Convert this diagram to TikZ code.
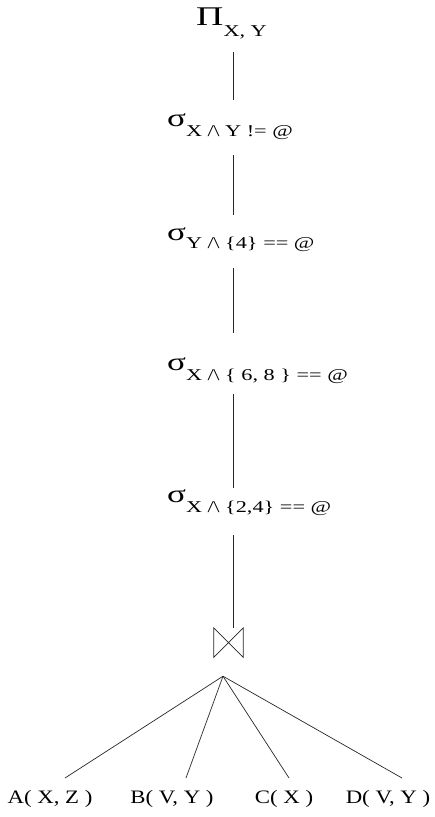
\documentclass[tikz,border=0pt]{standalone}
\usepackage{fontspec}
\setmainfont{Liberation Serif}[FakeStretch=1.2]
\newfontfamily\greekfont{Liberation Serif}[FakeStretch=1.4]
\newfontfamily\subfont{Liberation Serif}[FakeStretch=1.35]
\newcommand{\opsize}{\greekfont\fontsize{27}{27}\selectfont}
\newcommand{\sigsize}{\greekfont\fontsize{25}{25}\selectfont}
\newcommand{\subsize}{\subfont\fontsize{16.5}{16.5}\selectfont}
\newcommand{\relsize}{\fontsize{19}{19}\selectfont}
\newcommand{\sub}[2]{\lower#1pt\hbox{\subsize #2}}
\newcommand{\wedgesym}{/\kern-0.5pt\textbackslash}
\begin{document}
\begin{tikzpicture}[x=1pt,y=-1pt,
  op/.style={anchor=base west,inner sep=0pt},
  rel/.style={anchor=base,inner sep=0pt,font=\relsize},
  edge/.style={line width=0.7pt,draw=black!85}]
\useasboundingbox (0,0) rectangle (435,817);
\coordinate (spine) at (233,0);

% projection and selections
\node[op] (pi) at (196,25) {\opsize Π\sub{11}{X, Y}};
\node[op] (s1) at (167,126) {\sigsize σ\sub{10}{X \wedgesym{} Y != @}};
\node[op] (s2) at (167,240) {\sigsize σ\sub{8}{Y \wedgesym{} \{4\} == @}};
\node[op] (s3) at (167,370) {\sigsize σ\sub{10}{X \wedgesym{} \{ 6, 8 \} == @}};
\node[op] (s4) at (167,502) {\sigsize σ\sub{10}{X \wedgesym{} \{2,4\} == @}};

% join
\node[minimum width=29pt,minimum height=29pt,inner sep=0pt] (join) at (228.5,642.5) {};
\draw[edge] (join.north west) -- (join.south east) -- (join.north east)
  -- (join.south west) -- cycle;
\coordinate (apex) at ([xshift=-5.5pt,yshift=-19pt]join.south);

% relations
\node[rel] (A) at (50,803) {A( X, Z )};
\node[rel] (B) at (172,803) {B( V, Y )};
\node[rel] (C) at (284,803) {C( X )};
\node[rel] (D) at (388,803) {D( V, Y )};

% vertical chain
\draw[edge] ([yshift=-27pt]pi.base -| spine) -- ([yshift=26pt]s1.base -| spine);
\draw[edge] ([yshift=-29pt]s1.base -| spine) -- ([yshift=25pt]s2.base -| spine);
\draw[edge] ([yshift=-28pt]s2.base -| spine) -- ([yshift=37pt]s3.base -| spine);
\draw[edge] ([yshift=-24pt]s3.base -| spine) -- ([yshift=14pt]s4.base -| spine);
\draw[edge] ([yshift=-33pt]s4.base -| spine) -- (join.north -| spine);

% join inputs
\draw[edge] (apex) -- ([xshift=15pt,yshift=25pt]A.base);
\draw[edge] (apex) -- ([xshift=14pt,yshift=25pt]B.base);
\draw[edge] (apex) -- ([xshift=5pt,yshift=25pt]C.base);
\draw[edge] (apex) -- ([xshift=14pt,yshift=25pt]D.base);
\end{tikzpicture}
\end{document}
